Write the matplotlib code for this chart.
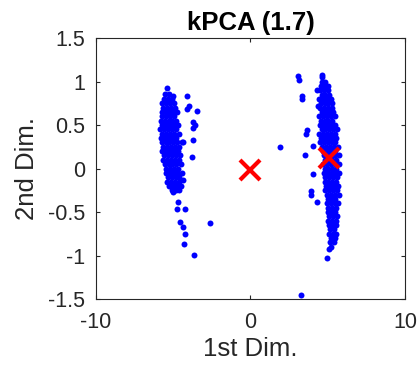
import numpy as np
import matplotlib
matplotlib.use("Agg")
from matplotlib import pyplot as plt

plt.rcParams['font.family'] = ['Liberation Sans', 'DejaVu Sans']

# left cluster, dense body, one row per 2nd Dim. level
left_row_y = [0.92, 0.86, 0.80, 0.75, 0.70, 0.65, 0.60, 0.55, 0.50, 0.45, 0.40,
              0.35, 0.30, 0.25, 0.20, 0.15, 0.10, 0.05, 0.00, -0.05, -0.10,
              -0.15, -0.20, -0.25]
left_row_x = [
    [-5.38],
    [-5.53, -5.25],
    [-5.60, -5.35, -5.05],
    [-5.70, -5.45, -5.20, -4.95],
    [-5.65, -5.40, -5.15, -4.90],
    [-5.75, -5.50, -5.25, -5.00, -4.75],
    [-5.70, -5.45, -5.20, -4.95],
    [-5.80, -5.55, -5.30, -5.05, -4.80],
    [-5.75, -5.50, -5.25, -5.00, -4.70],
    [-5.85, -5.60, -5.35, -5.10, -4.85],
    [-5.70, -5.45, -5.20, -4.95, -4.65],
    [-5.80, -5.55, -5.30, -5.05, -4.80],
    [-5.75, -5.50, -5.25, -5.00, -4.75, -4.45],
    [-5.65, -5.40, -5.15, -4.90, -4.60],
    [-5.70, -5.45, -5.20, -4.95, -4.70],
    [-5.60, -5.35, -5.10, -4.85, -4.55],
    [-5.65, -5.40, -5.15, -4.90, -4.65],
    [-5.55, -5.30, -5.05, -4.80, -4.50],
    [-5.45, -5.20, -4.95, -4.70],
    [-5.50, -5.25, -5.00, -4.75, -4.45],
    [-5.35, -5.10, -4.85, -4.60],
    [-5.40, -5.15, -4.90, -4.65],
    [-5.25, -5.00, -4.75, -4.50],
    [-5.10, -4.85, -4.60],
]
# left cluster, scattered points
left_out_x = [-5.04, -4.10, -3.97, -3.49, -4.14, -3.75, -3.60, -3.71, -3.71, -3.81,
              -4.36, -4.36, -5.00, -4.67, -4.78, -4.24, -4.56, -4.39, -2.62, -4.24,
              -4.28, -3.64]
left_out_y = [0.83, 0.83, 0.72, 0.66, 0.68, 0.54, 0.50, 0.46, 0.33, 0.13,
              0.31, -0.13, -0.27, -0.38, -0.46, -0.46, -0.61, -0.67, -0.63, -0.75,
              -0.87, -0.99]

# right cluster, dense body
right_row_y = [1.05, 1.00, 0.95, 0.90, 0.85, 0.80, 0.75, 0.70, 0.65, 0.60, 0.55,
               0.50, 0.45, 0.40, 0.35, 0.30, 0.25, 0.20, 0.15, 0.10, 0.05, 0.00,
               -0.05, -0.10, -0.15, -0.20, -0.25, -0.30, -0.35, -0.40, -0.45,
               -0.50, -0.55, -0.60, -0.65, -0.70, -0.75, -0.80, -0.85, -0.90]
right_row_x = [
    [4.65],
    [4.60, 4.85],
    [4.55, 4.80, 5.05],
    [4.50, 4.75, 5.00],
    [4.60, 4.85, 5.10],
    [4.45, 4.70, 4.95, 5.20],
    [4.55, 4.80, 5.05, 5.30],
    [4.50, 4.75, 5.00, 5.25],
    [4.60, 4.85, 5.10, 5.35],
    [4.45, 4.70, 4.95, 5.20, 5.45],
    [4.55, 4.80, 5.05, 5.30],
    [4.50, 4.75, 5.00, 5.25, 5.50],
    [4.60, 4.85, 5.10, 5.35, 5.60],
    [4.45, 4.70, 4.95, 5.20, 5.45],
    [4.55, 4.80, 5.05, 5.30, 5.55],
    [4.50, 4.75, 5.00, 5.25, 5.50],
    [4.65, 4.90, 5.15, 5.40, 5.65],
    [4.70, 4.95, 5.20, 5.45],
    [4.75, 5.00, 5.25, 5.50, 5.75],
    [4.80, 5.05, 5.30, 5.55],
    [4.70, 4.95, 5.20, 5.45, 5.70],
    [4.80, 5.05, 5.30, 5.55],
    [4.75, 5.00, 5.25, 5.50, 5.75],
    [4.85, 5.10, 5.35, 5.60],
    [4.80, 5.05, 5.30, 5.55],
    [4.90, 5.15, 5.40, 5.65],
    [4.85, 5.10, 5.35, 5.60],
    [4.95, 5.20, 5.45, 5.70],
    [5.00, 5.25, 5.50],
    [4.95, 5.20, 5.45, 5.65],
    [5.05, 5.30, 5.55],
    [5.00, 5.25, 5.50],
    [5.10, 5.35, 5.60],
    [5.05, 5.30, 5.55],
    [5.10, 5.35, 5.55],
    [5.15, 5.40],
    [5.10, 5.35, 5.55],
    [5.20, 5.45],
    [5.15, 5.40],
    [5.20],
]
right_out_x = [3.10, 3.14, 4.60, 3.31, 3.36, 4.29, 4.39, 3.63, 3.57, 4.06,
               3.53, 1.91, 4.06, 3.89, 3.95, 4.28, 4.97, 5.10, 3.24]
right_out_y = [1.06, 1.02, 1.07, 0.83, 0.80, 0.90, 0.72, 0.44, 0.40, 0.26,
               0.16, 0.25, -0.06, -0.26, -0.30, -0.38, -1.03, -0.93, -1.45]

# cluster centres
centre_x = [0.0, 5.08]
centre_y = [-0.02, 0.12]


def flatten(rows_y, rows_x):
    xs, ys = [], []
    for y, row in zip(rows_y, rows_x):
        for x in row:
            xs.append(x)
            ys.append(y)
    return xs, ys


lx, ly = flatten(left_row_y, left_row_x)
rx, ry = flatten(right_row_y, right_row_x)
pts_x = lx + left_out_x + rx + right_out_x
pts_y = ly + left_out_y + ry + right_out_y

fig = plt.figure(figsize=(4.18, 3.69), dpi=100)
ax = fig.add_axes([0.2297, 0.1897, 0.739, 0.7073])

ax.plot(pts_x, pts_y, 'o', color=(0, 0, 1), markersize=4.3, markeredgewidth=0)
ax.plot(centre_x, centre_y, 'x', color=(1, 0, 0), markersize=15, markeredgewidth=3)

ax.set_xlim(-10, 10)
ax.set_ylim(-1.5, 1.5)
ax.set_xticks([-10, 0, 10])
ax.set_yticks([-1.5, -1, -0.5, 0, 0.5, 1, 1.5])
ax.set_yticklabels(['-1.5', '-1', '-0.5', '0', '0.5', '1', '1.5'])
ax.set_xticklabels(['-10', '0', '10'])

axis_col = (0.15, 0.15, 0.15)
for s in ax.spines.values():
    s.set_color(axis_col)
    s.set_linewidth(0.8)
ax.tick_params(direction='in', length=3, width=0.8, colors=axis_col,
               labelsize=15.5, top=True, right=True)
ax.tick_params(axis='x', pad=9)
ax.tick_params(axis='y', pad=8)
for lab in ax.get_xticklabels() + ax.get_yticklabels():
    lab.set_color(axis_col)

ax.set_xlabel('1st Dim.', fontsize=18.5, color=axis_col, labelpad=3)
ax.set_ylabel('2nd Dim.', fontsize=18.5, color=axis_col, labelpad=6)
ax.set_title('kPCA (1.7)', fontsize=18.5, fontweight='bold', color='black', pad=6)

fig.savefig('out.png', dpi=100)
